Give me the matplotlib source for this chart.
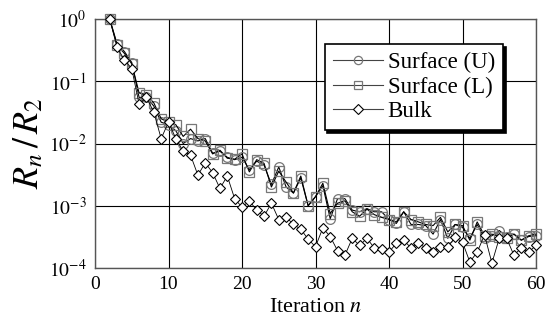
import matplotlib
matplotlib.use("Agg")
import matplotlib.pyplot as plt
import numpy as np

iterations = list(range(2, 61))

surface_u = [1.0, 0.40, 0.30, 0.20, 0.055, 0.055, 0.040, 0.022, 0.020, 0.016,
             0.010, 0.012, 0.011, 0.012, 0.0070, 0.0075, 0.0060, 0.0055, 0.0060, 0.0038,
             0.0052, 0.0045, 0.0022, 0.0042, 0.0020, 0.0016, 0.0028, 0.0010, 0.0014, 0.0021,
             0.00062, 0.0013, 0.0013, 0.00085, 0.0008, 0.0009, 0.0008, 0.0008, 0.0006, 0.00052,
             0.0008, 0.0005, 0.0005, 0.00048, 0.00035, 0.0006, 0.0003, 0.0005, 0.00045, 0.0003,
             0.0005, 0.0003, 0.00033, 0.0004, 0.00032, 0.00035, 0.00028, 0.00032, 0.00033]

surface_l = [1.0, 0.38, 0.28, 0.19, 0.065, 0.060, 0.045, 0.025, 0.022, 0.020,
             0.013, 0.017, 0.012, 0.011, 0.0068, 0.0078, 0.0058, 0.0056, 0.0068, 0.0035,
             0.0055, 0.0048, 0.0020, 0.0036, 0.0024, 0.0016, 0.0030, 0.0010, 0.0014, 0.0023,
             0.00075, 0.0011, 0.0012, 0.0008, 0.00068, 0.00088, 0.00072, 0.00065, 0.0006, 0.00055,
             0.0008, 0.0006, 0.00055, 0.0005, 0.00048, 0.00065, 0.00038, 0.0005, 0.00048, 0.00028,
             0.00055, 0.00033, 0.00035, 0.00032, 0.0003, 0.00035, 0.00028, 0.00033, 0.00035]

bulk = [1.0, 0.35, 0.22, 0.16, 0.043, 0.055, 0.032, 0.012, 0.022, 0.012,
        0.0075, 0.0065, 0.0031, 0.0049, 0.0034, 0.0019, 0.0030, 0.0013, 0.00095, 0.0012,
        0.00085, 0.00068, 0.0011, 0.0006, 0.00066, 0.0005, 0.00042, 0.00029, 0.00022, 0.00044,
        0.00032, 0.00019, 0.00016, 0.0003, 0.00023, 0.0003, 0.00021, 0.0002, 0.00018, 0.00025,
        0.00028, 0.00021, 0.00025, 0.00021, 0.00018, 0.00022, 0.00022, 0.00031, 0.00026, 0.000125,
        0.00018, 0.00034, 0.00012, 0.0003, 0.0003, 0.00016, 0.00021, 0.00018, 0.00023]

x_ticks = [0, 10, 20, 30, 40, 50, 60]
y_ticks = [1e-4, 1e-3, 1e-2, 1e-1, 1e0]
y_ticklabels = [r"$10^{-4}$", r"$10^{-3}$", r"$10^{-2}$", r"$10^{-1}$", r"$10^{0}$"]

plt.rcParams['font.family'] = ['Liberation Serif', 'DejaVu Serif']
plt.rcParams['mathtext.fontset'] = 'stix'

fig = plt.figure(figsize=(5.55, 3.31), dpi=100)
ax = fig.add_axes([95/555, 1 - 268/331, (536-95)/555, (268-19)/331])

gray = '#777777'
ax.plot(iterations, surface_u, '-', color='black', lw=0.8, marker='o', ms=7,
        mfc='none', mec=gray, mew=0.9, label='Surface (U)', zorder=3, clip_on=False)
ax.plot(iterations, surface_l, '-', color='black', lw=0.8, marker='s', ms=7,
        mfc='none', mec=gray, mew=0.9, label='Surface (L)', zorder=3, clip_on=False)
ax.plot(iterations, bulk, '-', color='black', lw=0.6, marker='D', ms=5.5,
        mfc='white', mec='black', mew=0.8, label='Bulk', zorder=3, clip_on=False)

ax.set_yscale('log')
ax.set_xlim(0, 60)
ax.set_ylim(1e-4, 1)
ax.set_xticks(x_ticks)
ax.set_xticklabels([str(t) for t in x_ticks], fontsize=14)
ax.set_yticks(y_ticks)
ax.set_yticklabels(y_ticklabels, fontsize=14)
ax.yaxis.set_minor_locator(matplotlib.ticker.NullLocator())
ax.tick_params(length=0, pad=6)
ax.grid(True, color='black', lw=0.8)
ax.set_axisbelow(True)
for s in ax.spines.values():
    s.set_color('#555555')
    s.set_linewidth(1.0)

ax.set_xlabel(r"Iteration $n$", fontsize=16, labelpad=3)
ax.set_ylabel(r"$R_n\,/\,R_2$", fontsize=26, labelpad=2)

leg = ax.legend(loc='upper right', bbox_to_anchor=(0.925, 0.9), fontsize=16.5,
                frameon=True, fancybox=False, shadow={'color': 'black', 'alpha': 1},
                edgecolor='black', framealpha=1, handlelength=2.2,
                borderpad=0.35, labelspacing=0.15, handletextpad=0.2, borderaxespad=0,
                markerscale=0.85)
leg.get_frame().set_linewidth(1.2)
leg.get_frame().set_facecolor('white')
for h, mc in zip(leg.legend_handles, [gray, gray, 'black']):
    h.set_color('#444444')
    h.set_linewidth(0.8)
    h.set_markeredgecolor(mc)

fig.savefig('out.png', dpi=100)
